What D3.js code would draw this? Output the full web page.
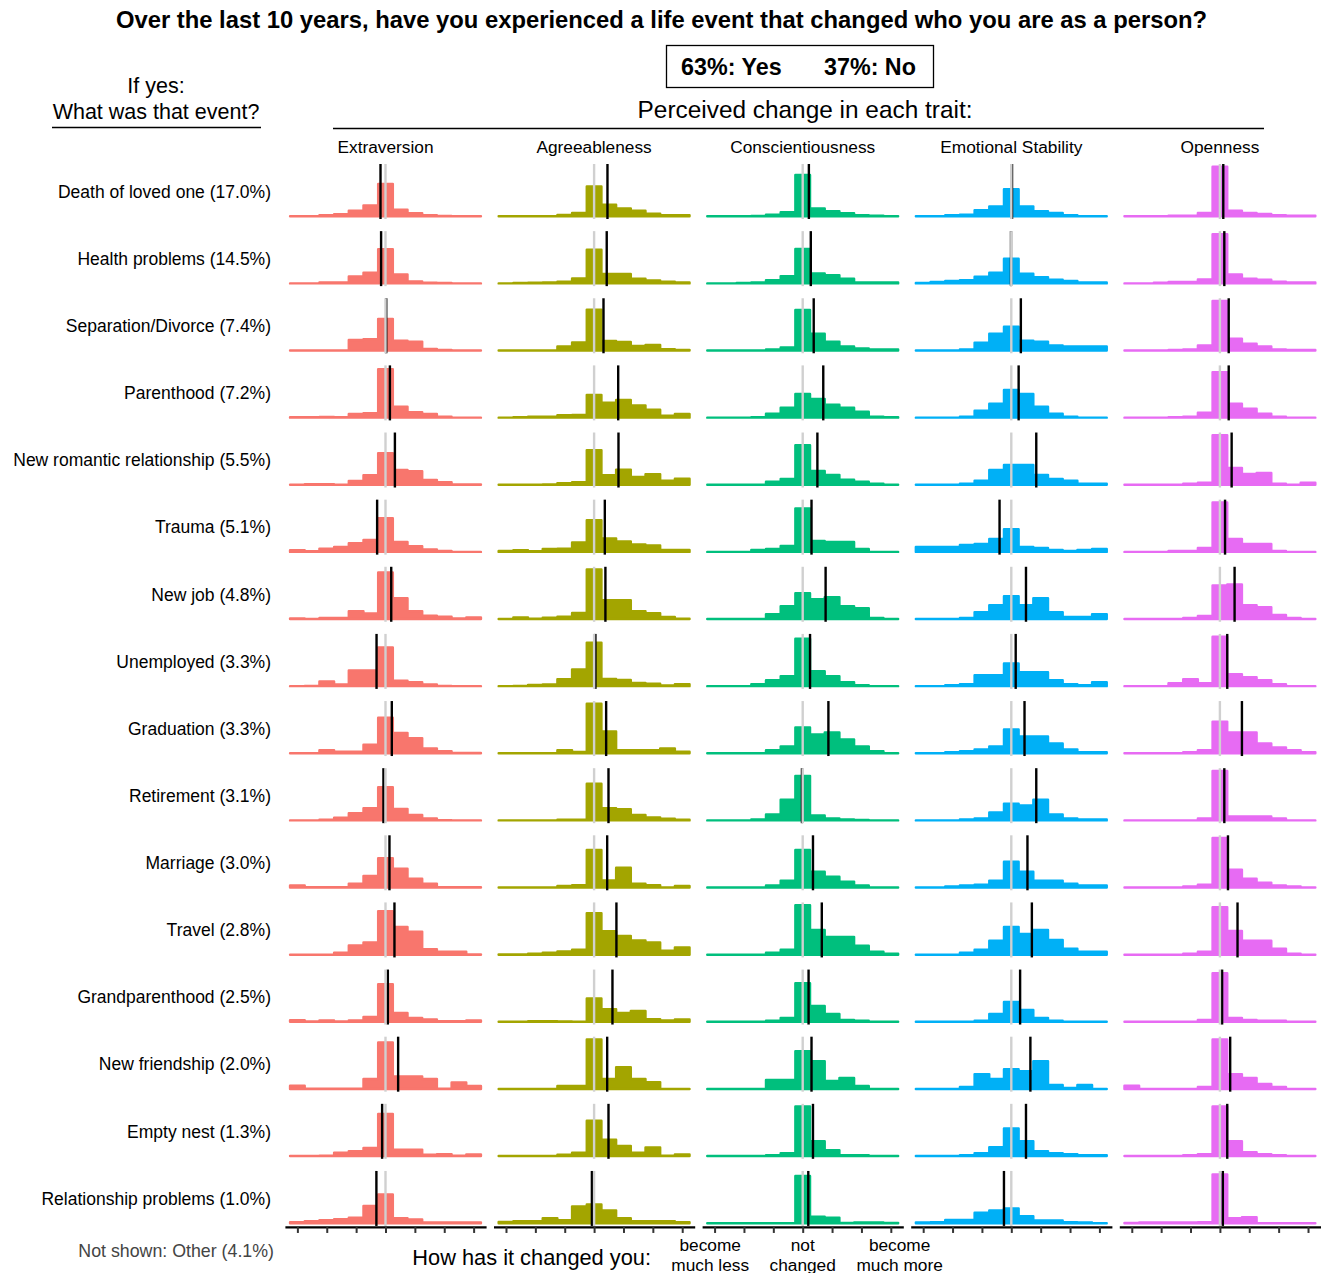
<!DOCTYPE html>
<html>
<head>
<meta charset="utf-8">
<script src="https://cdn.jsdelivr.net/npm/d3@7"></script>
<style>
  body { margin: 0; background: #fff; }
  text { font-family: "Liberation Sans", Arial, Helvetica, sans-serif; }
</style>
</head>
<body>
<svg id="chart" width="1325" height="1273"></svg>
<script>
// ---- data -------------------------------------------------------------
const events = [
  "Death of loved one", "Health problems", "Separation/Divorce", "Parenthood",
  "New romantic relationship", "Trauma", "New job", "Unemployed", "Graduation",
  "Retirement", "Marriage", "Travel", "Grandparenthood", "New friendship",
  "Empty nest", "Relationship problems"
];
const eventShares = [17.0, 14.5, 7.4, 7.2, 5.5, 5.1, 4.8, 3.3, 3.3, 3.1, 3.0, 2.8, 2.5, 2.0, 1.3, 1.0];
const otherShare = 4.1;
const yesShare = 63;
const noShare = 37;

const traits = ["Extraversion", "Agreeableness", "Conscientiousness", "Emotional Stability", "Openness"];
const traitColors = ["#F8766D", "#A3A500", "#00BF7D", "#00B0F6", "#E76BF3"];

// change scale: -6 (become much less) ... 0 (not changed) ... +6 (become much more)
const changeLevels = [-6, -5, -4, -3, -2, -1, 0, 1, 2, 3, 4, 5, 6];
const tickValues = [-6, -4, -2, 0, 2, 4, 6];
const axisLabelPos = [-6.3, 0, 6.6];
const axisLabels = [["become", "much less"], ["not", "changed"], ["become", "much more"]];

// share of respondents (%) at each change level, one row per event
const extraversion = [
  [0, 0, 1.5, 3, 8.3, 16.5, 49, 9.8, 4.5, 1.5, 0.5, 0, 0],
  [0, 0, 1.5, 1.5, 10.5, 16, 51.8, 13.5, 3, 1, 0.5, 0, 0],
  [0, 0, 0, 0, 16, 17, 48, 15, 13.5, 2.5, 1, 0, 0],
  [0.5, 0.5, 1, 0.5, 5.7, 6.8, 73.5, 16.5, 8.3, 5.7, 1.5, 0, 0],
  [0, 1, 1, 0, 5.7, 14.4, 48, 22.5, 20.5, 7.2, 4, 0.5, 0.5],
  [2.5, 1, 5, 7.5, 13, 18, 51, 15, 8.7, 3.6, 1.5, 0, 0],
  [1, 0, 1.5, 1.5, 11.8, 8.3, 70.5, 31.5, 12, 5, 3.6, 1, 2.5],
  [0, 0.5, 7.2, 2.5, 23.7, 23.7, 58.5, 8.3, 6, 2.5, 0.5, 0, 0],
  [0, 0, 4.5, 2.5, 2.5, 13, 54, 31, 23, 7.5, 3, 0.5, 0.5],
  [0, 0, 1, 4, 10.8, 18.6, 50.4, 17.5, 8.3, 3, 0.5, 0, 0],
  [3, 0.5, 0.5, 0.5, 6, 17.5, 44.3, 28.5, 13.5, 6, 0.5, 0.5, 0.5],
  [0, 0, 0, 3, 14, 18.6, 66, 42, 35, 8.3, 4.5, 4.5, 0.5],
  [2.5, 0.5, 2, 0.5, 2, 7.2, 57, 13.5, 5.7, 3.6, 1, 1, 2],
  [5, 0.5, 0.5, 0.5, 0.5, 15, 70.5, 19, 19, 15, 0.5, 9.8, 4.5],
  [0, 0, 0.5, 5, 7.5, 12.3, 63.8, 9.8, 9.8, 2, 3, 0.5, 2.5],
  [1.5, 3, 4.5, 6, 8.3, 26, 43.5, 7.5, 5.7, 1, 1, 1, 1]
];
const agreeableness = [
  [0, 0, 0, 0, 2, 5, 45, 17.5, 12, 8.3, 4, 1.5, 1.5],
  [0, 0.5, 1, 1.5, 2.5, 7.5, 51, 14.4, 14.4, 7.2, 4.5, 2.5, 1.5],
  [0, 0, 0, 0, 6, 12.3, 62, 14.4, 13, 6.8, 8.3, 2, 1],
  [0, 0.5, 1.5, 1.5, 3.6, 4, 34.5, 22.5, 26.7, 18.6, 12, 3, 5.7],
  [0, 0, 0, 0.5, 2.5, 4, 52.5, 14.4, 23, 12, 16, 6, 9.3],
  [1.5, 2.5, 1, 4.5, 5, 14.4, 48, 20.5, 16, 11.3, 9.8, 3, 3],
  [0, 2.5, 0.5, 2, 3.6, 9.3, 75, 28.5, 28.5, 11.8, 8.7, 3, 0.5],
  [0, 0.5, 2, 2.5, 10.4, 25.5, 66, 10.8, 9.3, 5, 3.6, 1, 3],
  [0, 0, 0, 0, 4.5, 2, 75, 33, 4.5, 4.5, 4.5, 7.5, 2.5],
  [0, 0, 0, 0, 1, 1, 55.5, 18.6, 17, 8.3, 4.5, 2.5, 1],
  [0, 0, 0, 0, 2.5, 3.6, 57, 10.8, 30, 5.7, 3.6, 0, 2.5],
  [0.5, 0.5, 1.5, 3, 5, 7.5, 63, 35.5, 28.5, 21.6, 18.6, 6, 10.8],
  [0, 0, 1, 1, 0.5, 0, 35.5, 19, 13.5, 16.5, 4, 2, 3.6],
  [0, 0, 0, 0, 4.5, 4.5, 75, 15, 33, 15, 10.4, 0, 0],
  [0, 0, 0, 0, 2, 5, 53.5, 24.8, 15.5, 5, 13, 0.5, 2.5],
  [2, 3, 3, 7.5, 4.5, 25.5, 28.5, 19.5, 7.5, 3, 3, 3, 1.5]
];
const conscientiousness = [
  [0, 0, 0, 0.5, 2.5, 6, 62.5, 12, 7.5, 4.5, 1.5, 1, 0],
  [0, 0, 0.5, 1.5, 5, 11, 52, 15, 12.5, 7, 1.5, 1.5, 1.5],
  [0, 0, 0, 0, 1.5, 4.5, 61.5, 25.5, 13.5, 6, 3, 1.5, 1.5],
  [0, 0, 0, 0.8, 6, 15, 36, 28.5, 19.5, 15, 9, 1.5, 0.8],
  [0, 0, 0, 0, 4.5, 9, 60, 21, 15, 7.5, 4.5, 1.5, 0],
  [0, 0, 0, 3, 4.5, 9, 66, 16.5, 15, 15, 4.5, 0, 0],
  [0, 0, 0, 0, 7.5, 19.5, 39, 30, 33, 19.5, 16.5, 1.5, 0],
  [0, 0, 0, 3, 9, 15, 72, 22.5, 15, 6, 1.5, 0, 0],
  [0, 0, 0, 0, 4.5, 10.5, 39, 28.5, 31.5, 21, 10.5, 3, 0],
  [0, 0, 0, 1.5, 9, 31.5, 67.5, 7.5, 3, 1.5, 0.8, 0, 0],
  [0, 0, 0, 0, 3, 10.5, 57, 24, 16.5, 9, 3, 0, 0],
  [0, 0, 0, 0, 3, 7.5, 75, 37.5, 27, 27, 13.5, 4.5, 1.5],
  [0, 0, 0, 0, 1.5, 6, 58.5, 24, 12, 3, 1.5, 0, 0],
  [0, 0, 0, 0, 13.5, 13.5, 57, 42, 12, 16.5, 4.5, 0, 0],
  [0, 0, 0, 0, 1.5, 4.5, 75, 22.5, 9, 1.5, 1.5, 0, 0],
  [0, 0, 0, 0, 0, 0, 71.5, 10, 8.5, 0.5, 1, 1, 0.5]
];
const emotionalStability = [
  [0, 0, 1.5, 2.5, 9, 15, 41, 15, 7.5, 5, 1.5, 0, 0],
  [0.5, 2, 3.5, 5, 10, 16, 37.5, 14.5, 9.5, 5.5, 3.5, 1.5, 1.5],
  [0, 0, 0, 1.5, 12, 25.5, 36, 15, 13.5, 7.5, 6, 6, 6],
  [0, 0, 0, 1.5, 10.5, 21, 42, 36, 16.5, 6, 1.5, 0, 0],
  [0, 0, 0, 1.5, 6, 22.5, 30, 30, 15, 9, 6, 1.5, 1.5],
  [7.5, 7.5, 7.5, 10.5, 12, 19.5, 34.5, 7.5, 6, 3, 1.5, 3, 4.5],
  [0, 0, 0, 1.5, 10.5, 21, 34.5, 21, 31.5, 10.5, 3, 3, 7.5],
  [0, 0, 1.5, 3, 16.5, 16.5, 34.5, 21, 21, 9, 3, 1.5, 6],
  [0, 0, 1.5, 3, 6, 10.5, 36, 25.5, 25.5, 15, 6, 1.5, 1.5],
  [0, 0, 0, 1.5, 3, 12, 25.5, 22.5, 31.5, 9, 3, 1.5, 1.5],
  [0, 0, 1.5, 3, 4.5, 10.5, 39, 24, 10.5, 10.5, 6, 3, 3],
  [0, 0, 0, 3, 7.5, 21, 42, 31.5, 37.5, 22.5, 9, 4.5, 4.5],
  [0, 0, 0, 0, 1.5, 12, 30, 18, 6, 1.5, 0, 0, 0],
  [0, 0, 0, 3, 22.5, 15, 30, 27, 42, 6, 1.5, 6, 0],
  [0, 0, 0, 1.5, 4.5, 13.5, 42, 22.5, 7.5, 4.5, 3, 1.5, 1.5],
  [1, 1.5, 5, 5, 16, 19.5, 22.5, 10.5, 4, 4, 1.5, 1, 0]
];
const openness = [
  [0, 0, 0, 1, 1, 5, 75, 8.5, 5, 3.5, 1.5, 1, 1],
  [0, 0, 1, 2, 2, 6, 74.5, 13.5, 7, 5.5, 2.5, 1.5, 1.5],
  [0, 0, 0, 0.8, 1.5, 7.5, 75, 18, 10.5, 6, 1.5, 0.8, 0.8],
  [0, 0, 0, 0.8, 1.5, 7.5, 69, 21, 13.5, 6, 1.5, 0, 0],
  [0, 0, 0, 0, 1.5, 3, 75, 25.5, 16.5, 18, 1.5, 0, 3],
  [0, 0, 0, 1.5, 1.5, 6, 75, 19.5, 12, 12, 1.5, 0, 0],
  [0, 0, 0, 0, 1.5, 4.5, 51, 52.5, 21, 18, 6, 1.5, 0],
  [0, 0, 0, 4.5, 10.5, 4.5, 75, 18, 13.5, 9, 3, 0, 0],
  [0, 0, 0, 0, 1.5, 4.5, 48, 31.5, 31.5, 15, 9, 4.5, 1.5],
  [0, 0, 0, 0, 0, 3, 75, 6, 6, 6, 3, 0, 0],
  [0, 0, 0, 0, 1.5, 4.5, 75, 27, 13.5, 7.5, 3, 1.5, 0],
  [0, 0, 0, 0, 1.5, 4.5, 72, 36, 21, 21, 9, 1.5, 0],
  [0, 0, 0, 0, 0, 3, 73.5, 6, 3, 1.5, 1.5, 0, 0],
  [5, 0, 0, 0, 0, 3, 75, 22.5, 16.5, 7.5, 3, 0, 0],
  [0, 0, 0, 0, 1.5, 3, 75, 22.5, 6, 3, 1.5, 0, 0],
  [0.5, 1, 1, 1, 1, 1.5, 74, 7.5, 9, 0, 0, 0, 0]
];

// mean perceived change per event
const extraversionMean = [-0.34, -0.3, 0.05, 0.3, 0.64, -0.57, 0.39, -0.61, 0.43, -0.14, 0.27, 0.61, 0.16, 0.86, -0.23, -0.62];
const agreeablenessMean = [0.91, 0.86, 0.64, 1.64, 1.66, 0.73, 0.77, 0.09, 0.82, 0.98, 0.89, 1.52, 1.25, 0.89, 0.98, -0.15];
const conscientiousnessMean = [0.42, 0.55, 0.75, 1.4, 1.0, 0.6, 1.56, 0.5, 1.75, -0.05, 0.7, 1.3, 0.4, 0.6, 0.7, 0.38];
const emotionalStabilityMean = [0.05, -0.02, 0.65, 0.5, 1.7, -0.8, 1.0, 0.3, 0.9, 1.7, 1.1, 1.4, 0.6, 1.3, 1.0, -0.5];
const opennessMean = [0.23, 0.3, 0.6, 0.6, 0.8, 0.35, 1.0, 0.5, 1.5, 0.3, 0.55, 1.2, 0.15, 0.7, 0.5, 0.2];

const distributions = [extraversion, agreeableness, conscientiousness, emotionalStability, openness];
const means = [extraversionMean, agreeablenessMean, conscientiousnessMean, emotionalStabilityMean, opennessMean];

// ---- layout -----------------------------------------------------------
const svg = d3.select("#chart");
const colCenter0 = 385.5, colStep = 208.6;
const halfWidth = 100.6;            // covers -6.85 .. 6.85
const rowTop0 = 164, rowStep = 67.13, panelH = 55, pad = 2.75;
const yMax = 75;

const xScales = traits.map((t, j) => {
  const cx = colCenter0 + colStep * j;
  return d3.scaleLinear().domain([-6.85, 6.85]).range([cx - halfWidth, cx + halfWidth]);
});
const yScales = events.map((e, i) => {
  const top = rowTop0 + rowStep * i;
  return d3.scaleLinear().domain([0, yMax]).range([top + panelH - pad, top + pad]);
});

// ---- titles -----------------------------------------------------------
svg.append("text")
  .attr("x", 661.5).attr("y", 28)
  .attr("text-anchor", "middle")
  .attr("font-size", 23.8).attr("font-weight", "bold")
  .text("Over the last 10 years, have you experienced a life event that changed who you are as a person?");

svg.append("rect")
  .attr("x", 666.5).attr("y", 45.5).attr("width", 267).attr("height", 42)
  .attr("fill", "none").attr("stroke", "#000").attr("stroke-width", 1.3);
svg.append("text").attr("x", 681).attr("y", 75)
  .attr("font-size", 23.3).attr("font-weight", "bold")
  .text(`${yesShare}%: Yes`);
svg.append("text").attr("x", 824).attr("y", 75)
  .attr("font-size", 23.3).attr("font-weight", "bold")
  .text(`${noShare}%: No`);

svg.append("text").attr("x", 156).attr("y", 93)
  .attr("text-anchor", "middle").attr("font-size", 21.5).text("If yes:");
svg.append("text").attr("x", 156).attr("y", 119)
  .attr("text-anchor", "middle").attr("font-size", 21.5).text("What was that event?");
svg.append("line").attr("x1", 52).attr("x2", 261).attr("y1", 127.5).attr("y2", 127.5)
  .attr("stroke", "#000").attr("stroke-width", 1.3);

svg.append("text").attr("x", 805).attr("y", 118)
  .attr("text-anchor", "middle").attr("font-size", 24.4).text("Perceived change in each trait:");
svg.append("line").attr("x1", 333).attr("x2", 1264).attr("y1", 128.5).attr("y2", 128.5)
  .attr("stroke", "#000").attr("stroke-width", 1.3);

// column headers
svg.selectAll("text.trait").data(traits).join("text")
  .attr("class", "trait")
  .attr("x", (d, j) => xScales[j](0))
  .attr("y", 153)
  .attr("text-anchor", "middle")
  .attr("font-size", 17.3)
  .text(d => d);

// row labels
svg.selectAll("text.event").data(events).join("text")
  .attr("class", "event")
  .attr("x", 271)
  .attr("y", (d, i) => yScales[i].range()[0] - 18.5)
  .attr("text-anchor", "end")
  .attr("font-size", 17.5)
  .text((d, i) => `${d} (${eventShares[i].toFixed(1)}%)`);

// ---- histogram panels --------------------------------------------------
traits.forEach((trait, j) => {
  const x = xScales[j];
  const color = traitColors[j];
  events.forEach((ev, i) => {
    const y = yScales[i];
    const top = rowTop0 + rowStep * i;
    const g = svg.append("g").attr("class", "panel");

    // step outline: each bin holds its value from its left edge to its right edge
    const vals = distributions[j][i];
    const pts = changeLevels.map((lvl, k) => ({ x0: lvl - 0.5, v: vals[k] }));
    pts.push({ x0: changeLevels[changeLevels.length - 1] + 0.5, v: vals[vals.length - 1] });

    const area = d3.area()
      .curve(d3.curveStepAfter)
      .x(d => x(d.x0))
      .y0(y(0))
      .y1(d => y(d.v));

    g.append("path")
      .attr("d", area(pts))
      .attr("fill", color)
      .attr("stroke", color)
      .attr("stroke-width", 2.4)
      .attr("stroke-linejoin", "round");

    // mean change
    g.append("line")
      .attr("x1", x(means[j][i])).attr("x2", x(means[j][i]))
      .attr("y1", top).attr("y2", top + panelH)
      .attr("stroke", "#000").attr("stroke-width", 2.4);
    // reference: not changed
    g.append("line")
      .attr("x1", x(0)).attr("x2", x(0))
      .attr("y1", top).attr("y2", top + panelH)
      .attr("stroke", "#d0d0d0").attr("stroke-width", 2.4);
  });

  // bottom axis
  const axisY = rowTop0 + rowStep * (events.length - 1) + panelH + 1;
  const axis = d3.axisBottom(x).tickValues(tickValues).tickFormat("").tickSize(6).tickSizeOuter(0);
  const ag = svg.append("g").attr("transform", `translate(0,${axisY})`).call(axis);
  ag.select(".domain").attr("stroke", "#000").attr("stroke-width", 2.2);
  ag.selectAll(".tick line").attr("stroke", "#333").attr("stroke-width", 2);
});

// change-scale labels under the middle column
const xMid = xScales[2];
axisLabels.forEach((lines, k) => {
  const t = svg.append("text")
    .attr("x", xMid(axisLabelPos[k]))
    .attr("y", 1251)
    .attr("text-anchor", "middle")
    .attr("font-size", 17.3);
  lines.forEach((ln, m) => {
    t.append("tspan").attr("x", xMid(axisLabelPos[k])).attr("dy", m === 0 ? 0 : 19.5).text(ln);
  });
});

svg.append("text").attr("x", 651).attr("y", 1265)
  .attr("text-anchor", "end").attr("font-size", 21.8)
  .text("How has it changed you:");

svg.append("text").attr("x", 274).attr("y", 1257)
  .attr("text-anchor", "end").attr("font-size", 17.8).attr("fill", "#444")
  .text(`Not shown: Other (${otherShare.toFixed(1)}%)`);
</script>
</body>
</html>
